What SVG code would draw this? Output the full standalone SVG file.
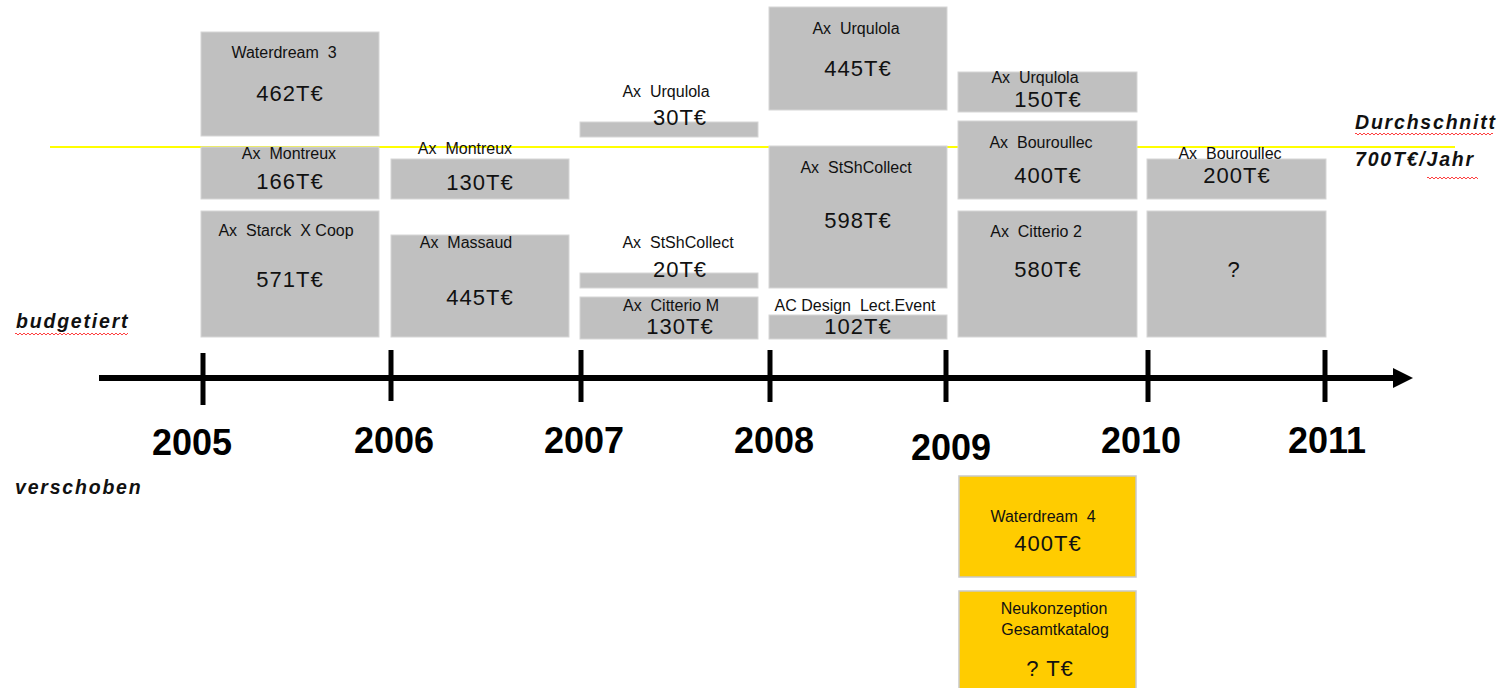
<svg xmlns="http://www.w3.org/2000/svg" width="1502" height="688" viewBox="0 0 1502 688">
<style>
text { font-family: "Liberation Sans", Arial, sans-serif; fill: #111; white-space: pre; }
.box { fill: #c0c0c0; stroke: #d6d6d6; stroke-width: 1; }
.obox { fill: #ffcc00; stroke: #c9c9c9; stroke-width: 1.5; }
.lbl { font-size: 16px; text-anchor: middle; }
.val { font-size: 22px; text-anchor: middle; letter-spacing: 1px; }
.year { font-size: 36px; font-weight: bold; text-anchor: middle; fill: #000; }
.side { font-size: 19.5px; font-weight: bold; font-style: italic; letter-spacing: 1.8px; fill: #111; }
.axis { stroke: #000; stroke-width: 6; fill: none; }
.tick { stroke: #000; stroke-width: 5; }
</style>
<defs>
<pattern id="wave" x="0" y="0" width="4" height="4" patternUnits="userSpaceOnUse">
<path d="M0,1 L2,3 L4,1" fill="none" stroke="#ff4040" stroke-width="1"/>
</pattern>
<marker id="arr" viewBox="0 0 20 20" refX="2" refY="10" markerWidth="20" markerHeight="20" markerUnits="userSpaceOnUse" orient="auto">
<path d="M0,0 L20,10 L0,20 Z" fill="#000"/>
</marker>
</defs>
<rect width="1502" height="688" fill="#fff"/>
<line x1="50" y1="147" x2="1455" y2="147" stroke="#ffff00" stroke-width="2"/>

<g id="n-waterdream3"><rect class="box" x="201" y="32" width="178" height="104"/><text class="lbl" x="284" y="58">Waterdream  3</text><text class="val" x="290" y="101">462T€</text></g>
<g id="n-montreux2005"><rect class="box" x="201" y="147" width="178" height="52"/><text class="lbl" x="289" y="159">Ax  Montreux</text><text class="val" x="290" y="189">166T€</text></g>
<g id="n-starck"><rect class="box" x="201" y="211" width="178" height="126"/><text class="lbl" x="286" y="236">Ax  Starck  X Coop</text><text class="val" x="290" y="287">571T€</text></g>

<g id="n-montreux2006"><rect class="box" x="391" y="159" width="178" height="40"/><text class="lbl" x="465" y="154">Ax  Montreux</text><text class="val" x="480" y="190">130T€</text></g>
<g id="n-massaud"><rect class="box" x="391" y="235" width="178" height="102"/><text class="lbl" x="466" y="248">Ax  Massaud</text><text class="val" x="480" y="305">445T€</text></g>

<g id="n-urqulola2007"><rect class="box" x="580" y="122" width="178" height="15"/><text class="lbl" x="666" y="97">Ax  Urqulola</text><text class="val" x="680" y="125">30T€</text></g>
<g id="n-stsh2007"><rect class="box" x="580" y="273" width="178" height="15"/><text class="lbl" x="678" y="248">Ax  StShCollect</text><text class="val" x="680" y="277">20T€</text></g>
<g id="n-citteriom"><rect class="box" x="580" y="297" width="178" height="42"/><text class="lbl" x="671" y="311">Ax  Citterio M</text><text class="val" x="680" y="334">130T€</text></g>

<g id="n-urqulola2008"><rect class="box" x="769" y="7" width="178" height="103"/><text class="lbl" x="856" y="34">Ax  Urqulola</text><text class="val" x="858" y="76">445T€</text></g>
<g id="n-stsh2008"><rect class="box" x="769" y="146" width="178" height="142"/><text class="lbl" x="856" y="173">Ax  StShCollect</text><text class="val" x="858" y="228">598T€</text></g>
<g id="n-acdesign"><rect class="box" x="769" y="315" width="178" height="24"/><text class="lbl" x="855" y="311">AC Design  Lect.Event</text><text class="val" x="858" y="334">102T€</text></g>

<g id="n-urqulola2009"><rect class="box" x="958" y="72" width="179" height="40"/><text class="lbl" x="1035" y="83">Ax  Urqulola</text><text class="val" x="1048" y="107">150T€</text></g>
<g id="n-bouroullec2009"><rect class="box" x="958" y="121" width="179" height="78"/><text class="lbl" x="1041" y="148">Ax  Bouroullec</text><text class="val" x="1048" y="183">400T€</text></g>
<g id="n-citterio2"><rect class="box" x="958" y="211" width="179" height="126"/><text class="lbl" x="1036" y="237">Ax  Citterio 2</text><text class="val" x="1048" y="277">580T€</text></g>

<g id="n-bouroullec2010"><rect class="box" x="1147" y="159" width="179" height="40"/><text class="lbl" x="1230" y="159">Ax  Bouroullec</text><text class="val" x="1237" y="183">200T€</text></g>
<g id="n-unknown2010"><rect class="box" x="1147" y="211" width="179" height="126"/><text class="val" x="1234" y="277">?</text></g>

<g id="n-waterdream4"><rect class="obox" x="959" y="476" width="177" height="101"/><text class="lbl" x="1043" y="522">Waterdream  4</text><text class="val" x="1048" y="551">400T€</text></g>
<g id="n-neukonzeption"><rect class="obox" x="959" y="591" width="177" height="100"/><text class="lbl" x="1054" y="614">Neukonzeption</text><text class="lbl" x="1055" y="635">Gesamtkatalog</text><text class="val" x="1050" y="676">? T€</text></g>

<g id="connectors">
<line class="axis" x1="99" y1="378" x2="1395" y2="378" marker-end="url(#arr)"/>
<line class="tick" x1="203" y1="353" x2="203" y2="405"/>
<line class="tick" x1="391" y1="350" x2="391" y2="401"/>
<line class="tick" x1="581" y1="350" x2="581" y2="402"/>
<line class="tick" x1="770" y1="350" x2="770" y2="402"/>
<line class="tick" x1="946" y1="350" x2="946" y2="402"/>
<line class="tick" x1="1148" y1="350" x2="1148" y2="402"/>
<line class="tick" x1="1325" y1="350" x2="1325" y2="402"/>
</g>

<g id="years">
<text class="year" x="192" y="455">2005</text>
<text class="year" x="394" y="453">2006</text>
<text class="year" x="584" y="453">2007</text>
<text class="year" x="774" y="453">2008</text>
<text class="year" x="951" y="460">2009</text>
<text class="year" x="1141" y="453">2010</text>
<text class="year" x="1327" y="453">2011</text>
</g>

<g id="legend">
<text class="side" x="1355" y="129">Durchschnitt</text>
<rect x="1355" y="133" width="138" height="4" fill="url(#wave)"/>
<text class="side" x="1355" y="166">700T€/Jahr</text>
<rect x="1427" y="175" width="51" height="4" fill="url(#wave)"/>
<text class="side" x="16" y="328">budgetiert</text>
<rect x="15" y="332" width="113" height="4" fill="url(#wave)"/>
<text class="side" x="15" y="494">verschoben</text>
</g>
</svg>
